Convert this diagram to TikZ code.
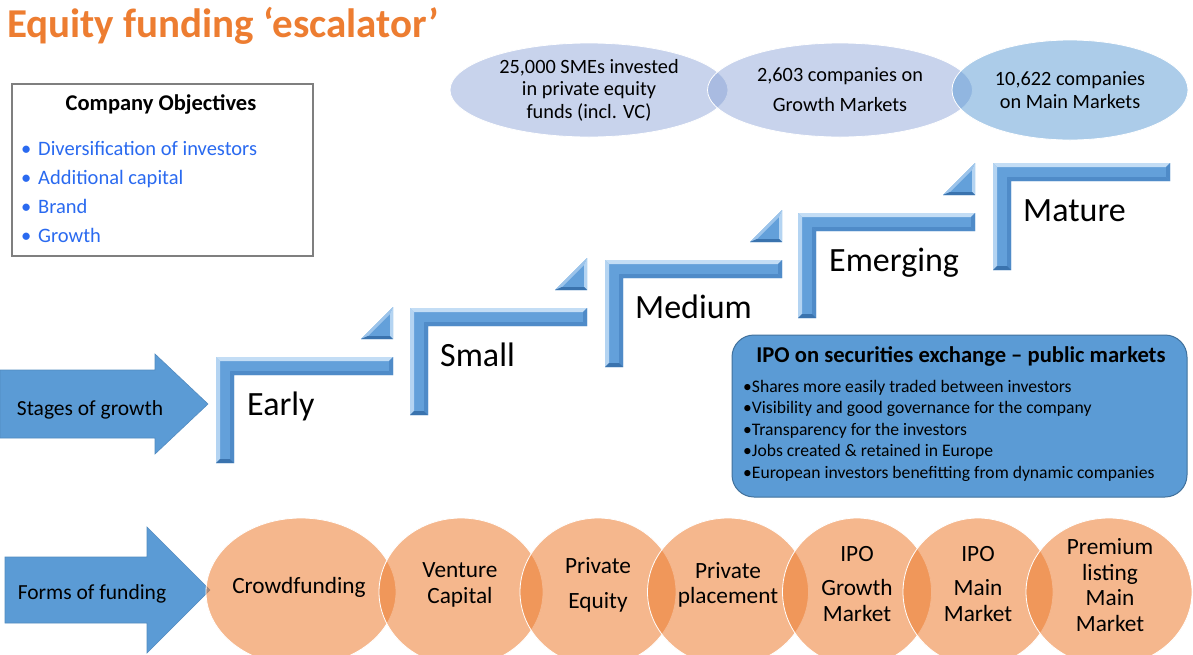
\documentclass[tikz,border=0pt]{standalone}
\usepackage{fontspec}
\setmainfont{Carlito}
\usetikzlibrary{shapes.geometric}
\definecolor{ttlorange}{HTML}{ED7D31}
\definecolor{accblue}{HTML}{5B9BD5}
\definecolor{accbluedk}{HTML}{41719C}
\definecolor{objblue}{HTML}{2A6AF0}
\definecolor{lav}{HTML}{829DD4}
\definecolor{stepbody}{HTML}{63A0DA}
\definecolor{steplt}{HTML}{B4D4F2}
\definecolor{stepmd}{HTML}{4F8BC8}
\definecolor{stepdk}{HTML}{3A73AE}
\definecolor{boxgray}{HTML}{7F7F7F}
\newcommand\escstep[4]{%
 \fill[stepbody] (#1,#3) -- (#1,#2) -- (#4,#2) -- (#4,#2+18) -- (#1+18,#2+18) -- (#1+18,#3) -- cycle;
 \fill[steplt] (#1,#3) -- (#1,#2) -- (#1+4,#2+4) -- (#1+4,#3-4) -- cycle;
 \fill[steplt!80!white] (#1,#2) -- (#4,#2) -- (#4-4,#2+4) -- (#1+4,#2+4) -- cycle;
 \fill[stepmd] (#4,#2) -- (#4,#2+18) -- (#4-4,#2+14) -- (#4-4,#2+4) -- cycle;
 \fill[stepmd] (#4,#2+18) -- (#1+18,#2+18) -- (#1+14,#2+14) -- (#4-4,#2+14) -- cycle;
 \fill[stepmd] (#1+18,#2+18) -- (#1+18,#3) -- (#1+14,#3-4) -- (#1+14,#2+14) -- cycle;
 \fill[stepdk] (#1,#3) -- (#1+18,#3) -- (#1+14,#3-4) -- (#1+4,#3-4) -- cycle;
}
\newcommand\esctri[2]{%
 \fill[stepbody] (#1-32,#2-18) -- (#1,#2-50) -- (#1,#2-18) -- cycle;
 \fill[steplt!70!stepbody] (#1-32,#2-18) -- (#1,#2-50) -- (#1-3,#2-43) -- (#1-25,#2-21) -- cycle;
 \fill[steplt] (#1,#2-50) -- (#1,#2-18) -- (#1-3,#2-21) -- (#1-3,#2-43) -- cycle;
 \fill[stepdk] (#1-32,#2-18) -- (#1,#2-18) -- (#1-3,#2-21) -- (#1-25,#2-21) -- cycle;
}
\begin{document}
\begin{tikzpicture}[x=1pt,y=-1pt,
  steplabel/.style={font=\fontsize{34}{40}\selectfont, inner sep=0, anchor=base west},
  topell/.style={ellipse, inner sep=0, draw=white, line width=0.8pt, align=center,
     font=\fontsize{20.3}{22.5}\selectfont, text=black, text opacity=1},
  fcirc/.style={ellipse, inner sep=0, draw=white, line width=0.8pt, fill=ttlorange, fill opacity=0.55},
  ftext/.style={align=center, font=\fontsize{23.3}{25.5}\selectfont, inner sep=0},
  ipoitem/.style={anchor=base west, font=\fontsize{17.6}{20}\selectfont, inner sep=0},
  objitem/.style={anchor=base west, font=\fontsize{20.5}{24}\selectfont, text=objblue, inner sep=0},
  bigarrow/.style={fill=accblue, draw=accblue!90!black, line width=0.6pt},
  sidelabel/.style={anchor=base, font=\fontsize{21.5}{24}\selectfont, inner sep=0},
]
\useasboundingbox (0,0) rectangle (1193,654);
\fill[white] (0,0) rectangle (1193,654);

% title
\node[anchor=base west, inner sep=0, text=ttlorange, font=\bfseries\fontsize{41}{46}\selectfont] (title) at (7,37) {Equity funding ‘escalator’};

% company objectives
\node[draw=boxgray, line width=1.2pt, minimum width=301, minimum height=172, inner sep=0] (objbox) at (162.5,170) {};
\node[anchor=base, inner sep=0, font=\bfseries\fontsize{22.5}{26}\selectfont] (objtitle) at (161,110) {Company Objectives};
\node[objitem] (o1) at (21,155) {\makebox[17pt][l]{•}Diversification of investors};
\node[objitem] (o2) at (21,184) {\makebox[17pt][l]{•}Additional capital};
\node[objitem] (o3) at (21,213) {\makebox[17pt][l]{•}Brand};
\node[objitem] (o4) at (21,242) {\makebox[17pt][l]{•}Growth};

% top ellipses
\node[topell, fill=lav, fill opacity=0.44, minimum width=278, minimum height=94] (e1) at (589,90)
  {25,000 SMEs invested\\in private equity\\funds (incl. VC)};
\node[topell, fill=lav, fill opacity=0.44, minimum width=265, minimum height=94] (e2) at (840,90)
  {2,603 companies on\\[7.5pt]Growth Markets};
\node[topell, fill=accblue, fill opacity=0.5, minimum width=236, minimum height=100] (e3) at (1070,90)
  {10,622 companies\\on Main Markets};

% stages arrow
\fill[bigarrow] (0,370) -- (155,370) -- (155,354) -- (208,404) -- (155,454) -- (155,438) -- (0,438) -- cycle;
\node[sidelabel] (stages) at (90,415) {Stages of growth};

% steps
\escstep{216}{357}{463}{393}
\esctri{393}{357}
\escstep{410}{308}{415}{587}
\esctri{587}{308}
\escstep{605}{260}{367}{782}
\esctri{782}{260}
\escstep{798}{213}{318}{975}
\esctri{975}{213}
\escstep{993}{163}{270}{1170}
\node[steplabel] (early) at (247,415.5) {Early};
\node[steplabel] (small) at (440,366.5) {Small};
\node[steplabel] (medium) at (635,318.5) {Medium};
\node[steplabel] (emerging) at (829,271.5) {Emerging};
\node[steplabel] (mature) at (1023,221.5) {Mature};

% IPO box
\node[draw=accbluedk, fill=accblue, rounded corners=22pt, line width=1pt, minimum width=455, minimum height=162, inner sep=0] (ipobox) at (959.5,416) {};
\node[anchor=base, inner sep=0, font=\bfseries\fontsize{22.6}{26}\selectfont] (ipotitle) at (961,362) {IPO on securities exchange – public markets};
\node[ipoitem] (i1) at (743,392) {•Shares more easily traded between investors};
\node[ipoitem] (i2) at (743,413.5) {•Visibility and good governance for the company};
\node[ipoitem] (i3) at (743,435) {•Transparency for the investors};
\node[ipoitem] (i4) at (743,456.5) {•Jobs created \& retained in Europe};
\node[ipoitem] (i5) at (743,478) {•European investors benefitting from dynamic companies};

% forms of funding arrow
\fill[bigarrow] (5,557) -- (147,557) -- (147,527) -- (210,590) -- (147,653) -- (147,623) -- (5,623) -- cycle;
\node[sidelabel] (forms) at (92,599) {Forms of funding};

% funding circles
\node[fcirc, minimum width=190, minimum height=148] (c1) at (301,592) {};
\node[fcirc, minimum width=164, minimum height=148] (c2) at (461,592) {};
\node[fcirc, minimum width=156, minimum height=148] (c3) at (598,592) {};
\node[fcirc, minimum width=161, minimum height=148] (c4) at (728,592) {};
\node[fcirc, minimum width=149, minimum height=148] (c5) at (857,592) {};
\node[fcirc, minimum width=150, minimum height=148] (c6) at (978,592) {};
\node[fcirc, minimum width=166, minimum height=148] (c7) at (1109,592) {};
\node[ftext] (t1) at (299,587) {Crowdfunding};
\node[ftext] (t2) at (460,585) {Venture\\Capital};
\node[ftext] (t3) at (598,585) {Private\\[10pt]Equity};
\node[ftext] (t4) at (728,585) {Private\\placement};
\node[ftext] (t5) at (857,584) {IPO\\[9pt]Growth\\Market};
\node[ftext] (t6) at (978,584) {IPO\\[9pt]Main\\Market};
\node[ftext] (t7) at (1110,585) {Premium\\listing\\Main\\Market};
\end{tikzpicture}
\end{document}
